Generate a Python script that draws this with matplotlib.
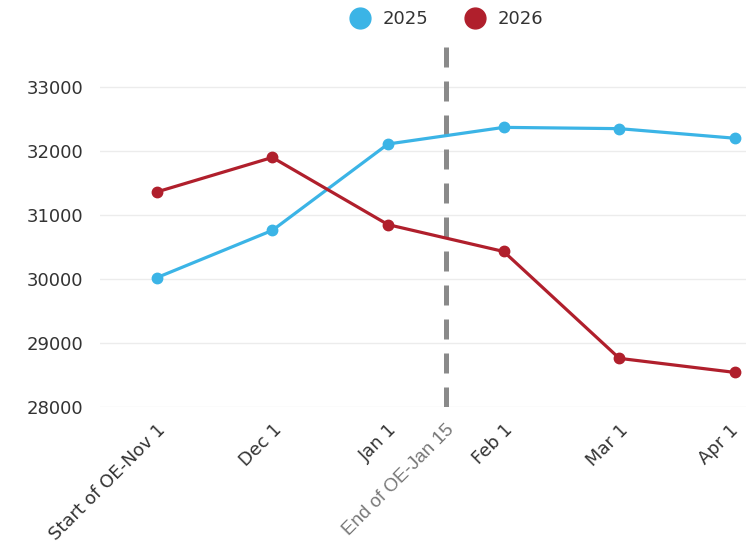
import numpy as np
import matplotlib.pyplot as plt
from matplotlib.lines import Line2D

# данные
labels = ["Start of OE-Nov 1", "Dec 1", "Jan 1", "Feb 1", "Mar 1", "Apr 1"]
vals_2025 = [30020, 30760, 32110, 32370, 32350, 32200]
vals_2026 = [31360, 31900, 30850, 30430, 28760, 28540]
oe_end_label = "End of OE-Jan 15"
oe_end_pos = 2.5
yticks = [28000, 29000, 30000, 31000, 32000, 33000]

blue = "#3bb4e6"
red = "#b01f2c"
text_col = "#333333"

plt.rcParams['font.family'] = ['DejaVu Sans']

fig = plt.figure(figsize=(7.46, 5.43), dpi=100)
ax = fig.add_axes([0.134, 0.2505, 0.866, 0.707])

x = np.arange(len(labels))
ax.plot(x, vals_2025, color=blue, lw=2.3, marker="o", ms=7.5, zorder=3, clip_on=False)
ax.plot(x, vals_2026, color=red, lw=2.3, marker="o", ms=7.5, zorder=3, clip_on=False)

# пунктир "конец OE" — снизу вверх, чтобы внизу был целый штрих
ax.plot([oe_end_pos, oe_end_pos], [28000, 33620], color="#8a8a8a", lw=3.6,
        ls=(0, (4.0, 2.8)), zorder=2)

ax.set_xlim(-0.49, 5.095)
ax.set_ylim(28000, 34000)

ax.set_yticks(yticks)
ax.set_yticklabels([str(v) for v in yticks], fontsize=13, color=text_col)
ax.grid(axis="y", color="#ececec", lw=1)
ax.set_axisbelow(True)

# последнюю подпись рисуем отдельно, чуть левее — иначе обрезается у края
tick_pos = [0, 1, 2, oe_end_pos, 3, 4, 5]
tick_lab = labels[:3] + [oe_end_label] + labels[3:-1] + [""]
ax.set_xticks(tick_pos)
ax.set_xticklabels(tick_lab, rotation=45, ha="right", rotation_mode="anchor",
                   fontsize=12.9, color=text_col)
for t in ax.get_xticklabels():
    if t.get_text() == oe_end_label:
        t.set_color("#777777")
        t.set_fontfamily("Liberation Sans")
        t.set_fontsize(13.5)

ax.annotate(labels[-1], xy=(x[-1], 0), xycoords=ax.get_xaxis_transform(),
            xytext=(-4, -10), textcoords="offset points", rotation=45,
            ha="right", va="top", rotation_mode="anchor", fontsize=12.9,
            color=text_col, annotation_clip=False)

ax.tick_params(axis="both", length=0)
ax.tick_params(axis="y", pad=12)
ax.tick_params(axis="x", pad=10)
for s in ax.spines.values():
    s.set_visible(False)

handles = [Line2D([], [], ls="", marker="o", ms=15, color=blue, label="2025"),
           Line2D([], [], ls="", marker="o", ms=15, color=red, label="2026")]
fig.legend(handles=handles, loc="center", bbox_to_anchor=(0.593, 0.965), ncol=2,
           frameon=False, fontsize=13, handletextpad=0.25, columnspacing=1.6,
           labelcolor=text_col)

fig.savefig("out.png", dpi=100)
